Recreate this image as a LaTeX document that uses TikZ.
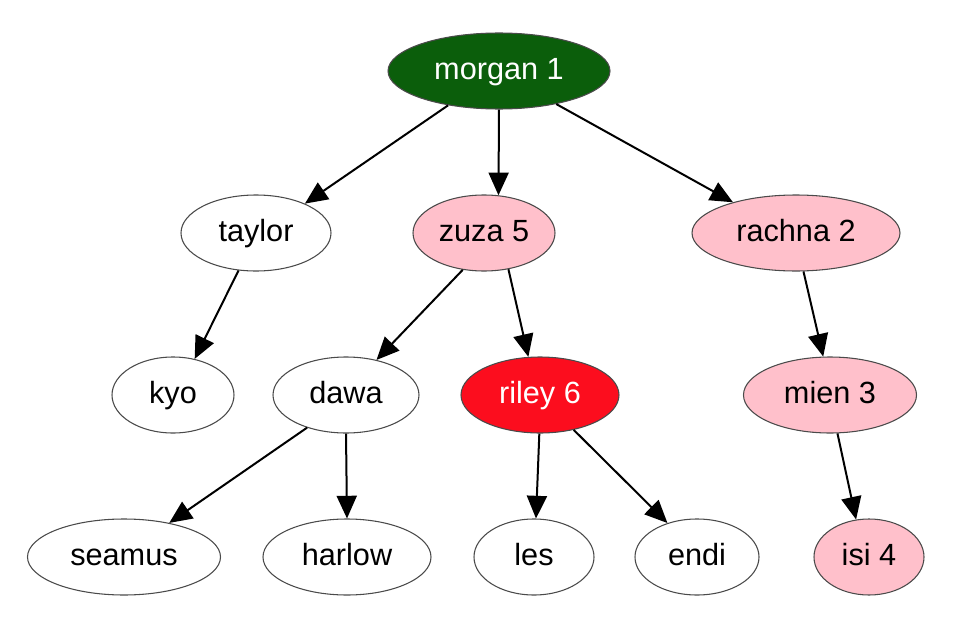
\documentclass[tikz,border=0pt]{standalone}
\usepackage{fontspec}
\setmainfont{Liberation Sans}
\usetikzlibrary{shapes.geometric,arrows.meta}
\definecolor{dgreen}{HTML}{0B5E0B}
\definecolor{pinkfill}{HTML}{FFC0CB}
\definecolor{redfill}{HTML}{FC0D1E}
\definecolor{rimgray}{HTML}{4A4A4A}
\begin{document}
\begin{tikzpicture}[x=0.75pt,y=-0.75pt,
  tn/.style={ellipse,draw=rimgray,line width=0.8pt,inner sep=0pt,minimum height=57pt,
    font=\fontsize{23}{27}\selectfont,text=black,fill=white,text height=14pt,text depth=2pt},
  pk/.style={tn,fill=pinkfill},
  edge/.style={line width=1.5pt,-{Triangle[length=17pt,width=15pt]}}]
\path[use as bounding box,fill=white] (0,0) rectangle (954,628);
\node[tn,fill=dgreen,text=white,minimum width=166.5pt] (morgan) at (499,71) {morgan 1};
\node[tn,minimum width=112.5pt] (taylor) at (256,233) {taylor};
\node[pk,minimum width=106.5pt] (zuza) at (484,233) {zuza 5};
\node[pk,minimum width=156pt] (rachna) at (796,233) {rachna 2};
\node[tn,minimum width=91.5pt] (kyo) at (173,395) {kyo};
\node[tn,minimum width=109.5pt] (dawa) at (346,395) {dawa};
\node[tn,fill=redfill,text=white,minimum width=118.5pt] (riley) at (540,395) {riley 6};
\node[pk,minimum width=129.75pt] (mien) at (830,395) {mien 3};
\node[tn,minimum width=144.75pt] (seamus) at (124,557) {seamus};
\node[tn,minimum width=126pt] (harlow) at (347,557) {harlow};
\node[tn,minimum width=90pt] (les) at (534,557) {les};
\node[tn,minimum width=93pt] (endi) at (697,557) {endi};
\node[pk,minimum width=82.5pt] (isi) at (869,557) {isi 4};
\draw[edge] (morgan.214) -- (taylor.31);
\draw[edge] (morgan.-90) -- (zuza.69);
\draw[edge] (morgan.-30) -- (rachna.154);
\draw[edge] (taylor.-115) -- (kyo.59);
\draw[edge] (zuza.-120) -- (dawa.49);
\draw[edge] (zuza.-56) -- (riley.107);
\draw[edge] (rachna.-79) -- (mien.100);
\draw[edge] (dawa.220) -- (seamus.37);
\draw[edge] (dawa.-90) -- (harlow.90);
\draw[edge] (riley.-91) -- (les.87);
\draw[edge] (riley.-46) -- (endi.131);
\draw[edge] (mien.-79) -- (isi.109);
\end{tikzpicture}
\end{document}
